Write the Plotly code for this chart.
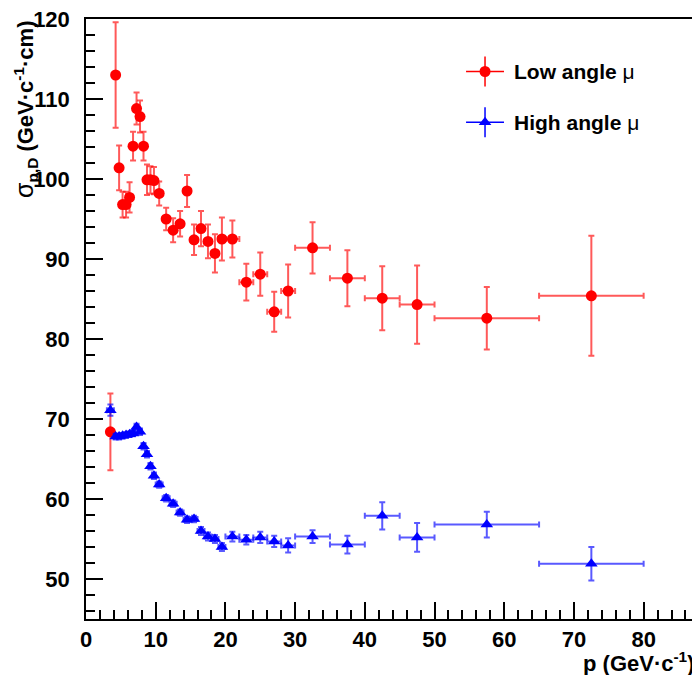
import plotly.graph_objects as go

# low angle muons
low_p = [3.5, 4.25, 4.75, 5.25, 5.75, 6.25, 6.75, 7.25, 7.75, 8.25, 8.75, 9.25, 9.75,
         10.5, 11.5, 12.5, 13.5, 14.5, 15.5, 16.5, 17.5, 18.5, 19.5,
         21, 23, 25, 27, 29, 32.5, 37.5, 42.5, 47.5, 57.5, 72.5]
low_p_err = [0.5] + [0.25] * 12 + [0.5] * 10 + [1] * 5 + [2.5] * 4 + [7.5, 7.5]
low_sigma = [68.4, 113.0, 101.4, 96.8, 96.8, 97.7, 104.1, 108.8, 107.8, 104.1, 99.9, 99.9, 99.8,
             98.2, 95.0, 93.6, 94.4, 98.5, 92.4, 93.8, 92.2, 90.7, 92.5,
             92.5, 87.1, 88.1, 83.4, 86.0, 91.4, 87.6, 85.1, 84.3, 82.6, 85.4]
low_sigma_err = [4.8, 6.6, 2.8, 1.6, 1.6, 1.9, 1.8, 2.0, 2.0, 1.8, 1.9, 1.7, 1.7,
                 1.5, 1.4, 1.5, 1.6, 2.0, 1.9, 2.2, 2.1, 2.4, 2.7,
                 2.3, 2.3, 2.7, 2.5, 3.3, 3.2, 3.5, 4.0, 4.9, 3.9, 7.5]

# high angle muons
high_p = list(low_p)
high_p_err = list(low_p_err)
high_sigma = [71.1, 67.8, 67.8, 67.9, 68.0, 68.1, 68.2, 69.0, 68.4, 66.6, 65.6, 64.1, 62.9,
              61.8, 60.1, 59.4, 58.3, 57.4, 57.5, 56.0, 55.3, 55.0, 54.0,
              55.3, 54.9, 55.2, 54.7, 54.2, 55.3, 54.3, 57.9, 55.2, 56.8, 51.9]
high_sigma_err = [0.7] + [0.35] * 6 + [0.4] * 12 + [0.5] * 4 + [0.6, 0.6, 0.7, 0.7, 0.9,
                  0.8, 1.1, 1.7, 1.8, 1.6, 2.1]

series = [
    ("Low angle", low_p, low_p_err, low_sigma, low_sigma_err, "circle", "red", "rgba(255,0,0,0.65)"),
    ("High angle", high_p, high_p_err, high_sigma, high_sigma_err, "triangle-up", "blue", "rgba(0,0,255,0.65)"),
]

FONT = "Liberation Sans, Arial, sans-serif"

fig = go.Figure()
for name, p, pe, s, se, sym, col, ecol in series:
    fig.add_trace(go.Scatter(
        x=p, y=s, mode="markers", name=name,
        marker=dict(symbol=sym, size=11, color=col),
        error_x=dict(type="data", array=pe, color=ecol, thickness=2, width=3),
        error_y=dict(type="data", array=se, color=ecol, thickness=2, width=3),
        showlegend=False,
    ))

# hand-made legend: key markers on an overlay axis in [0,1]
leg_x = 0.652
leg_y = [0.9125, 0.828]
for (name, *_rest), ly in zip(series, leg_y):
    sym, col = _rest[4], _rest[5]
    fig.add_trace(go.Scatter(
        x=[leg_x], y=[ly], mode="markers", xaxis="x2", yaxis="y2",
        marker=dict(symbol=sym, size=11, color=col), showlegend=False, hoverinfo="skip",
    ))
    fig.add_shape(type="line", xref="paper", yref="paper",
                  x0=leg_x - 0.031, x1=leg_x + 0.031, y0=ly, y1=ly, line=dict(color=col, width=1.5))
    fig.add_shape(type="line", xref="paper", yref="paper",
                  x0=leg_x, x1=leg_x, y0=ly - 0.025, y1=ly + 0.025, line=dict(color=col, width=1.5))
    fig.add_annotation(
        xref="paper", yref="paper", x=0.696, y=ly, xanchor="left", yanchor="middle",
        text=f"{name} <span style='font-weight:normal'>μ</span>", showarrow=False,
        font=dict(family=FONT, size=21, color="black", weight="bold"),
    )

axis_common = dict(
    showgrid=False, zeroline=False, showline=True, linecolor="black", linewidth=1.5,
    mirror=True, ticks="inside", ticklen=17, tickwidth=1.5, tickcolor="black", automargin=False,
    ticklabeloverflow="allow",
    tickfont=dict(family=FONT, size=22, color="black", weight="bold"),
)

# page body adds an 8px offset, so the figure is 8px smaller and margins shifted
fig.update_layout(
    width=692, height=667,
    margin=dict(l=78, r=2, t=11, b=56),
    paper_bgcolor="white", plot_bgcolor="white",
    xaxis=dict(range=[0, 87.8], dtick=10, tick0=0, ticklabelstandoff=0,
               minor=dict(ticks="inside", ticklen=9, dtick=2, tick0=0, tickwidth=1.5, tickcolor="black"),
               **axis_common),
    yaxis=dict(range=[45, 120], dtick=10, tick0=0, ticklabelstandoff=10,
               minor=dict(ticks="inside", ticklen=9, dtick=2, tick0=0, tickwidth=1.5, tickcolor="black"),
               **axis_common),
    xaxis2=dict(range=[0, 1], overlaying="x", visible=False, domain=[0, 1]),
    yaxis2=dict(range=[0, 1], overlaying="y", visible=False),
    showlegend=False,
)

fig.add_annotation(
    xref="paper", yref="paper", x=0.996, y=-0.072, xanchor="right", yanchor="middle",
    text="p (GeV·c<sup>-1</sup>)", showarrow=False,
    font=dict(family=FONT, size=22, color="black", weight="bold"),
)
fig.add_annotation(
    xref="paper", yref="paper", x=-0.099, y=1.0, xanchor="center", yanchor="top",
    textangle=-90, showarrow=False,
    text="<span style='font-weight:normal;font-size:25px'>σ</span><sub>p,D</sub> (GeV·c<sup>-1</sup>·cm)",
    font=dict(family=FONT, size=22, color="black", weight="bold"),
)

fig.write_html("out.html")
